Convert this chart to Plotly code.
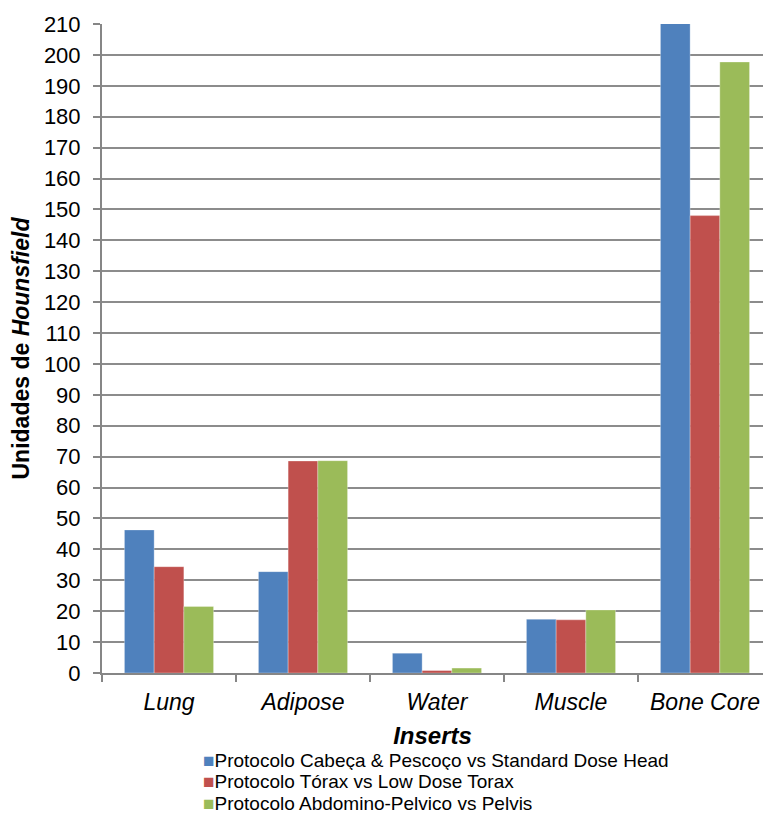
import plotly.graph_objects as go

# Hounsfield units measured for each insert, per acquisition protocol
inserts = ["Lung", "Adipose", "Water", "Muscle", "Bone Core"]
cabeca_pescoco = [46.3, 32.8, 6.4, 17.4, 214.0]
torax = [34.4, 68.6, 0.8, 17.2, 148.0]
abdomino_pelvico = [21.5, 68.7, 1.6, 20.4, 197.7]

series_names = [
    "Protocolo Cabeça & Pescoço vs Standard Dose Head",
    "Protocolo Tórax vs Low Dose Torax",
    "Protocolo Abdomino-Pelvico vs Pelvis",
]
series_values = [cabeca_pescoco, torax, abdomino_pelvico]
series_colors = ["#4F81BD", "#C0504D", "#9BBB59"]

y_ticks = list(range(0, 211, 10))

FONT = "Liberation Sans, Arial, sans-serif"

fig = go.Figure()
for name, vals, col in zip(series_names, series_values, series_colors):
    fig.add_trace(go.Bar(
        x=inserts, y=vals, name=name, showlegend=False,
        marker=dict(color=col, line=dict(color="rgba(255,255,255,0.5)", width=0.6)),
    ))

# Compact legend below the x-axis title: one line per series
legend_top = -0.135      # paper y of the first legend row
legend_step = 0.0328     # row spacing in paper units
for i, (name, col) in enumerate(zip(series_names, series_colors)):
    fig.add_annotation(
        xref="paper", yref="paper", x=0.152, y=legend_top - i * legend_step,
        xanchor="left", yanchor="middle", showarrow=False,
        height=19, borderpad=0, valign="middle",
        text=f"<span style='color:{col}'>■</span>{name}",
        font=dict(size=19, family=FONT, color="black"),
    )

fig.update_layout(
    width=763, height=813,
    margin=dict(l=102, r=0, t=24, b=140, autoexpand=False),
    paper_bgcolor="white", plot_bgcolor="white",
    barmode="group", bargap=0.335, bargroupgap=0,
    font=dict(family=FONT, color="black"),
    showlegend=False,
)

fig.update_xaxes(
    type="category", range=[-0.5, 4.433],
    showline=True, linecolor="#868686", linewidth=2,
    ticks="outside", tickson="boundaries", ticklen=7, tickwidth=2, tickcolor="#868686",
    tickfont=dict(size=23, family=FONT, style="italic"),
    ticklabelstandoff=7,
    showgrid=False,
    title=dict(text="<b><i>Inserts</i></b>", font=dict(size=24, family=FONT), standoff=14),
)

fig.update_yaxes(
    range=[0, 210], tickvals=y_ticks,
    showline=True, linecolor="#868686", linewidth=2,
    ticks="outside", ticklen=7, tickwidth=2, tickcolor="#868686",
    tickfont=dict(size=22, family=FONT),
    ticklabelstandoff=8,
    showgrid=True, gridcolor="#8C8C8C", gridwidth=2,
    zeroline=False,
    title=dict(text="<b>Unidades de <i>Hounsfield</i></b>",
               font=dict(size=23, family=FONT), standoff=8),
)

fig.write_html("out.html")
